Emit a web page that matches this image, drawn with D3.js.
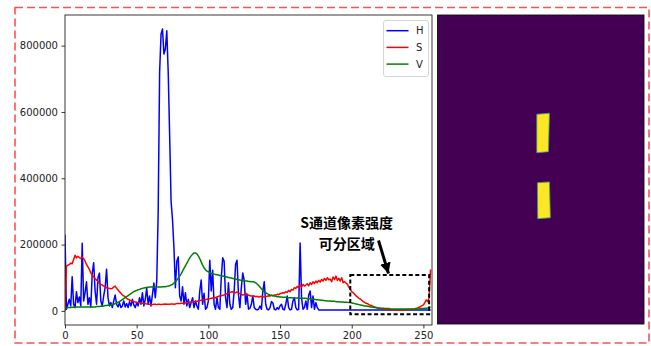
<!DOCTYPE html>
<html>
<head>
<meta charset="utf-8">
<script src="https://cdn.jsdelivr.net/npm/d3@7"></script>
<style>
  html, body { margin: 0; padding: 0; background: #ffffff; }
  svg { display: block; }
</style>
</head>
<body>
<div id="chart"></div>
<script>
// ---------------- data (values in thousands of pixels) ----------------
const seriesNames = ["H", "S", "V"];
const seriesColors = ["#0000ff", "#ff0000", "#008000"];

const hValues = [
  230,5,20,35,15,103,20,10,58,25,
  42,15,204,30,55,88,20,40,12,114,
  145,60,20,100,114,30,15,45,70,126,
  40,15,25,10,30,48,20,12,25,10,
  15,30,12,22,10,28,15,35,18,10,
  25,15,40,20,55,15,35,69,20,45,
  15,50,84,40,90,300,720,835,850,775,
  790,845,720,530,330,275,190,70,150,163,
  45,30,73,20,55,15,35,10,25,40,
  10,30,15,5,60,93,20,53,5,10,
  30,153,60,123,20,5,40,10,5,100,
  160,150,40,10,85,20,5,10,60,141,
  153,50,10,70,114,93,20,50,5,8,
  20,45,10,5,3,5,15,5,60,88,
  20,5,3,10,28,24,5,3,10,5,
  15,20,5,3,20,45,10,3,5,30,
  40,10,3,5,205,40,5,10,30,5,
  48,60,10,45,5,25,10,3,3,3,
  3,3,3,3,3,3,3,3,3,3,
  3,3,3,3,3,3,3,3,3,3,
  3,3,3,3,3,3,3,3,3,3,
  3,3,3,3,3,3,3,3,3,3,
  3,3,3,3,3,3,3,3,3,3,
  3,3,3,3,3,3,3,3,3,3,
  3,3,3,3,3,3,3,3,3,3,
  3,3,3,3,3,3
];

const sValues = [
  0,135,138,140,144,142,155,168,160,165,
  161,158,162,158,150,140,133,125,115,108,
  103,98,93,88,83,80,78,75,73,70,
  68,68,67,68,72,75,68,63,58,53,
  48,45,42,38,35,33,31,29,28,27,
  26,25,25,24,23,22,22,21,21,20,
  20,19,20,20,19,20,20,19,20,20,
  21,20,20,20,21,21,20,21,22,22,
  22,23,23,24,24,25,25,26,27,27,
  28,29,29,30,31,32,33,33,34,35,
  36,37,38,39,40,39,42,44,45,46,
  47,48,50,52,53,55,57,58,56,55,
  57,54,52,50,48,50,54,50,47,46,
  45,44,45,43,44,42,43,44,42,43,
  43,44,46,45,47,46,48,48,50,49,
  52,53,55,54,58,56,62,58,65,63,
  70,68,74,70,78,72,80,75,78,82,
  76,85,80,88,83,90,85,92,87,95,
  90,98,92,100,94,96,88,102,95,105,
  92,98,90,100,85,88,84,80,72,65,
  58,55,50,45,42,38,36,32,28,26,
  23,22,19,17,16,13,12,10,9,8,
  7,6,6,5,5,4,4,4,3,3,
  3,3,3,3,3,3,3,3,4,4,
  4,4,5,5,6,8,9,11,13,16,
  18,25,33,28,40,125
];

const vValues = [
  8,9,10,10,10,11,11,11,12,12,
  12,12,12,12,12,12,12,12,12,12,
  12,12,13,13,13,14,14,15,16,16,
  17,17,18,19,20,22,24,26,28,31,
  34,37,40,43,46,49,52,55,58,60,
  62,64,65,67,68,69,70,71,71,72,
  72,72,72,72,72,72,72,72,73,73,
  73,74,75,76,78,80,84,88,93,99,
  105,112,120,128,136,144,152,160,166,171,
  175,175,172,166,158,148,138,130,124,120,
  118,116,114,112,111,110,109,108,107,106,
  105,104,103,102,101,100,99,98,97,96,
  95,94,93,92,92,91,90,90,89,89,
  88,88,87,85,81,77,72,67,62,58,
  55,52,50,48,47,46,45,44,43,43,
  42,42,41,41,41,40,40,40,40,39,
  39,39,39,38,38,38,38,38,38,37,
  37,36,36,35,35,34,34,33,33,32,
  32,31,31,30,30,30,29,29,29,28,
  28,28,27,27,27,26,26,26,25,25,
  24,23,22,21,20,19,18,17,16,15,
  15,14,13,12,12,11,10,10,9,9,
  8,8,8,7,7,7,7,6,6,6,
  6,6,6,6,6,6,6,6,6,6,
  6,6,6,6,6,6,6,6,7,7,
  7,8,8,9,11,13
];

const xTickValues = [0, 50, 100, 150, 200, 250];
const xTickLabels = ["0", "50", "100", "150", "200", "250"];
const yTickValues = [0, 200, 400, 600, 800];
const yTickLabels = ["0", "200000", "400000", "600000", "800000"];

const annotationLines = ["S通道像素强度", "可分区域"];

// mask image (right panel), in image pixel units
const maskSize = [200, 300];
const maskPolygons = [
  [[96.2, 96.4], [108.4, 95.4], [107.4, 132.7], [96.2, 133.7]],
  [[96.8, 162.8], [108.4, 162.1], [109.3, 196.8], [97.1, 197.8]]
];

// ---------------- drawing ----------------
const W = 651, Hh = 346;
const svg = d3.select("#chart").append("svg").attr("width", W).attr("height", Hh);
svg.append("rect").attr("width", W).attr("height", Hh).attr("fill", "#fff");

const plot = { left: 65, right: 432, top: 15, bottom: 325 };
const x = d3.scaleLinear().domain([0, 256]).range([plot.left, plot.right]);
const y = d3.scaleLinear().domain([-42.5, 892.5]).range([plot.bottom, plot.top]);

svg.append("clipPath").attr("id", "plotclip").append("rect")
  .attr("x", plot.left).attr("y", plot.top)
  .attr("width", plot.right - plot.left).attr("height", plot.bottom - plot.top);

const allSeries = [hValues, sValues, vValues];
const line = d3.line().x((d, i) => x(i)).y(d => y(d));
const gLines = svg.append("g").attr("clip-path", "url(#plotclip)");
allSeries.forEach((vals, k) => {
  gLines.append("path").datum(vals)
    .attr("d", line)
    .attr("fill", "none")
    .attr("stroke", seriesColors[k])
    .attr("stroke-width", 1.5)
    .attr("stroke-linejoin", "round");
});

// axes frame
svg.append("rect")
  .attr("x", plot.left).attr("y", plot.top)
  .attr("width", plot.right - plot.left).attr("height", plot.bottom - plot.top)
  .attr("fill", "none").attr("stroke", "#222").attr("stroke-width", 0.9);

const xAxis = d3.axisBottom(x).tickValues(xTickValues)
  .tickFormat((d, i) => xTickLabels[i]).tickSize(3.5).tickPadding(3.5);
const yAxis = d3.axisLeft(y).tickValues(yTickValues)
  .tickFormat((d, i) => yTickLabels[i]).tickSize(3.5).tickPadding(3.5);

const gx = svg.append("g").attr("transform", `translate(0,${plot.bottom})`).call(xAxis);
const gy = svg.append("g").attr("transform", `translate(${plot.left},0)`).call(yAxis);
[gx, gy].forEach(g => {
  g.select(".domain").remove();
  g.selectAll(".tick line").attr("stroke", "#222").attr("stroke-width", 0.9);
  g.selectAll(".tick text").attr("fill", "#222")
    .style("font-family", "'DejaVu Sans', sans-serif").style("font-size", "10px");
});

// legend
const lg = svg.append("g");
lg.append("rect").attr("x", 383.5).attr("y", 20.5).attr("width", 45).attr("height", 56)
  .attr("rx", 2.5).attr("fill", "#fff").attr("fill-opacity", 0.8)
  .attr("stroke", "#d0d0d0").attr("stroke-width", 0.9);
seriesNames.forEach((name, i) => {
  const yy = 30.7 + i * 16.7;
  lg.append("line").attr("x1", 386.5).attr("x2", 408.5).attr("y1", yy).attr("y2", yy)
    .attr("stroke", seriesColors[i]).attr("stroke-width", 1.5);
  lg.append("text").attr("x", 416).attr("y", yy).attr("dy", "0.36em")
    .attr("fill", "#222")
    .style("font-family", "'DejaVu Sans', sans-serif").style("font-size", "10px")
    .text(name);
});

// dashed highlight box (data coordinates)
svg.append("rect")
  .attr("x", x(199)).attr("y", y(108))
  .attr("width", x(254) - x(199)).attr("height", y(-10) - y(108))
  .attr("fill", "none").attr("stroke", "#000").attr("stroke-width", 2)
  .attr("stroke-dasharray", "4,2.5");

// annotation text
const annX = x(196.5);
annotationLines.forEach((t, i) => {
  svg.append("text").attr("x", annX).attr("y", 223.5 + i * 20.5)
    .attr("dy", "0.35em").attr("text-anchor", "middle")
    .attr("fill", "#000")
    .style("font-family", "'Noto Sans CJK SC', sans-serif")
    .style("font-weight", "700").style("font-size", "14px")
    .text(t);
});

// arrow
svg.append("defs").append("marker").attr("id", "arrowhead")
  .attr("viewBox", "0 0 10 10").attr("refX", 10).attr("refY", 5)
  .attr("markerWidth", 3.6).attr("markerHeight", 3.6).attr("markerUnits", "strokeWidth")
  .attr("orient", "auto")
  .append("path").attr("d", "M0,0 L10,5 L0,10 z").attr("fill", "#000");
svg.append("line")
  .attr("x1", 378.5).attr("y1", 240.5).attr("x2", 388.5).attr("y2", 273.5)
  .attr("stroke", "#000").attr("stroke-width", 3)
  .attr("marker-end", "url(#arrowhead)");

// right image panel (mask)
const panel = { left: 437.5, right: 644, top: 15, bottom: 324 };
const mx = d3.scaleLinear().domain([0, maskSize[0]]).range([panel.left, panel.right]);
const my = d3.scaleLinear().domain([0, maskSize[1]]).range([panel.top, panel.bottom]);
svg.append("rect").attr("x", panel.left).attr("y", panel.top)
  .attr("width", panel.right - panel.left).attr("height", panel.bottom - panel.top)
  .attr("fill", "#440154").attr("stroke", "#111").attr("stroke-width", 0.9);
svg.selectAll(".maskpoly").data(maskPolygons).enter().append("polygon")
  .attr("points", d => d.map(p => [mx(p[0]), my(p[1])].join(",")).join(" "))
  .attr("fill", "#fde725").attr("stroke", "#3aa37a").attr("stroke-width", 0.8);

// outer red dashed frame
svg.append("rect").attr("x", 15).attr("y", 7.5).attr("width", 634).attr("height", 335.5)
  .attr("fill", "none").attr("stroke", "#ff5050").attr("stroke-width", 1.6)
  .attr("stroke-dasharray", "8,4");
</script>
</body>
</html>
